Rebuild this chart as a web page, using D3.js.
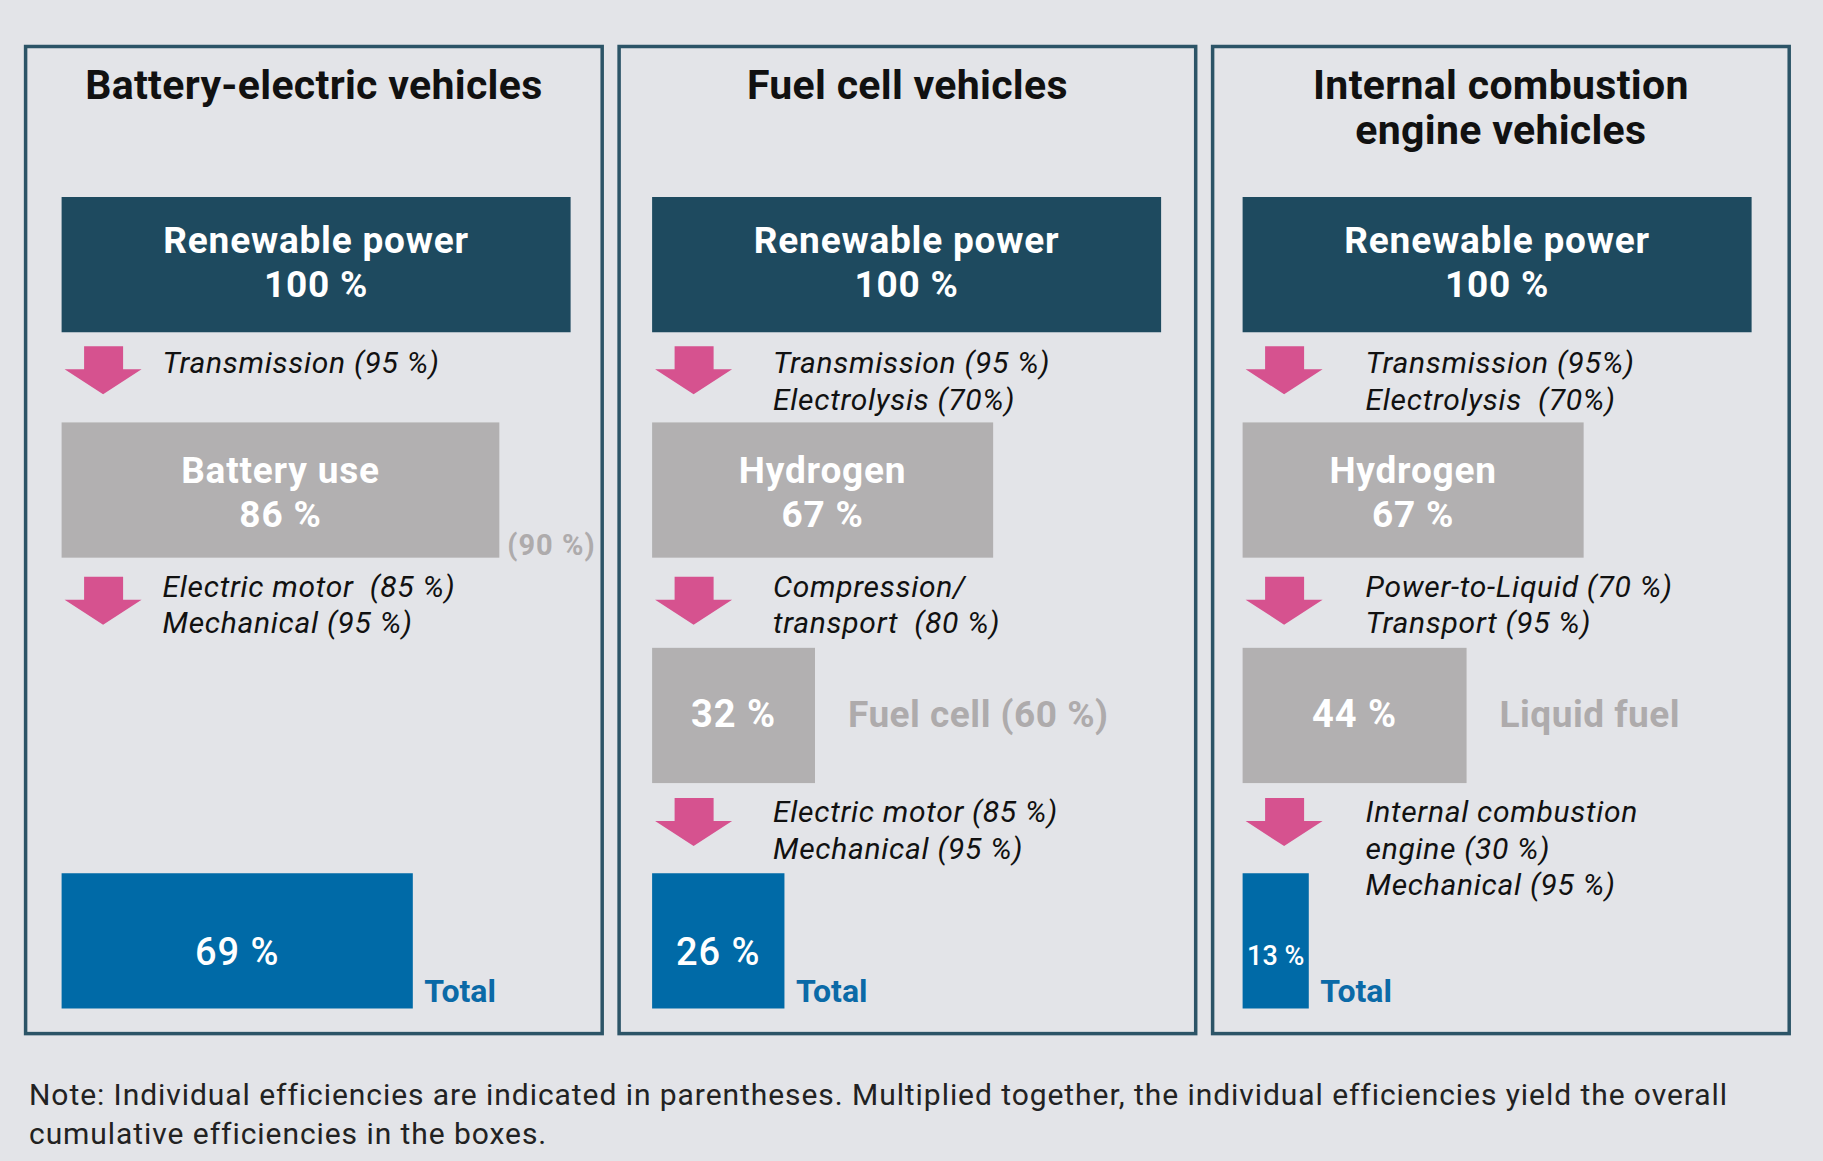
<!DOCTYPE html>
<html>
<head>
<meta charset="utf-8">
<script src="https://cdn.jsdelivr.net/npm/d3@7"></script>
<style>
  html, body { margin: 0; padding: 0; background: #e3e4e8; }
  svg { display: block; }
  text { font-family: Roboto, "Open Sans", sans-serif; white-space: pre; }
</style>
</head>
<body>
<svg id="chart" width="1823" height="1161"></svg>
<script>
// ---------------- DATA ----------------
const panelTitles = [
  ["Battery-electric vehicles"],
  ["Fuel cell vehicles"],
  ["Internal combustion", "engine vehicles"]
];
const stages = ["source", "intermediate", "carrier", "total"];

// cumulative efficiency (%) of each stage, per vehicle type (null = no stage)
const bevValues = [100, 86, null, 69];
const fcvValues = [100, 67, 32, 26];
const iceValues = [100, 67, 44, 13];

const bevBoxLabels = [["Renewable power", "100 %"], ["Battery use", "86 %"], null, ["69 %"]];
const fcvBoxLabels = [["Renewable power", "100 %"], ["Hydrogen", "67 %"], ["32 %"], ["26 %"]];
const iceBoxLabels = [["Renewable power", "100 %"], ["Hydrogen", "67 %"], ["44 %"], ["13 %"]];

// conversion-step labels under each stage (arrow below stage i)
const bevSteps = [["Transmission (95 %)"], ["Electric motor  (85 %)", "Mechanical (95 %)"], null];
const fcvSteps = [["Transmission (95 %)", "Electrolysis (70%)"], ["Compression/", "transport  (80 %)"], ["Electric motor (85 %)", "Mechanical (95 %)"]];
const iceSteps = [["Transmission (95%)", "Electrolysis  (70%)"], ["Power-to-Liquid (70 %)", "Transport (95 %)"], ["Internal combustion", "engine (30 %)", "Mechanical (95 %)"]];

// grey side notes next to a stage box
const sideNoteStage = [1, 2, 2];
const sideNoteText = ["(90 %)", "Fuel cell (60 %)", "Liquid fuel"];

const totalLabel = "Total";
const noteLines = [
  "Note: Individual efficiencies are indicated in parentheses. Multiplied together, the individual efficiencies yield the overall",
  "cumulative efficiencies in the boxes."
];

// ---------------- LAYOUT ----------------
const W = 1823, H = 1161;
const C = {
  bg: "#e3e4e8", border: "#2c5467", dark: "#1e4a5f", grey: "#b2b0b1",
  blue: "#006aa7", pink: "#d6528f", sideGrey: "#aeabac", total: "#0b6aa7",
  text: "#111111", note: "#222222"
};
const panelsData = [
  { title: panelTitles[0], values: bevValues, labels: bevBoxLabels, steps: bevSteps },
  { title: panelTitles[1], values: fcvValues, labels: fcvBoxLabels, steps: fcvSteps },
  { title: panelTitles[2], values: iceValues, labels: iceBoxLabels, steps: iceSteps }
];
const innerDx = [36, 33, 30];        // box left offset inside each panel
const stepDx = [101, 121, 123];      // step-label left offset from box left
const arrowGap = [14, 19, 15];       // arrow top below each stage box

const svg = d3.select("#chart");
svg.append("rect").attr("width", W).attr("height", H).attr("fill", C.bg);

const panelX = d3.scaleBand().domain(d3.range(3)).range([25.6, 1789.2]).paddingInner(0.0285);
const rowY = d3.scaleBand().domain(d3.range(4)).range([197, 1008.5]).paddingInner(0.4);
const boxW = d3.scaleLinear().domain([0, 100]).range([0, 509]);
const panelTop = 46.5, panelBottom = 1033.6;

const panels = svg.selectAll("g.panel").data(panelsData).join("g")
  .attr("class", "panel")
  .attr("transform", (d, i) => `translate(${panelX(i)},0)`);

panels.append("rect")
  .attr("x", 0).attr("y", panelTop)
  .attr("width", panelX.bandwidth()).attr("height", panelBottom - panelTop)
  .attr("fill", "none").attr("stroke", C.border).attr("stroke-width", 3.5);

// titles
panels.each(function(d) {
  const g = d3.select(this);
  d.title.forEach((line, k) => {
    g.append("text")
      .attr("x", panelX.bandwidth() / 2).attr("y", 99 + k * 45)
      .attr("text-anchor", "middle")
      .attr("font-size", 41).attr("font-weight", 700).attr("letter-spacing", 0.3)
      .attr("fill", C.text)
      .text(line);
  });
});

const fillFor = r => r === 0 ? C.dark : (r === 3 ? C.blue : C.grey);

panels.each(function(d, pi) {
  const g = d3.select(this);
  const x0 = innerDx[pi];
  // boxes
  d.values.forEach((v, r) => {
    if (v == null) return;
    const y = rowY(r), h = rowY.bandwidth(), w = boxW(v);
    g.append("rect").attr("x", x0).attr("y", y).attr("width", w).attr("height", h).attr("fill", fillFor(r));
    const lines = d.labels[r];
    const cx = x0 + w / 2, cy = y + h / 2;
    const small = w < 100;
    if (lines.length === 2) {
      const off = r === 0 ? -11.4 : -6.7;
      lines.forEach((ln, k) => {
        g.append("text").attr("x", cx).attr("y", cy + off + k * 44)
          .attr("text-anchor", "middle").attr("font-size", 37).attr("font-weight", 700)
          .attr("letter-spacing", 0.8)
          .attr("fill", "#ffffff").text(ln);
      });
    } else {
      const off = r === 3 ? 24.3 : 11.8;
      g.append("text").attr("x", cx).attr("y", cy + off)
        .attr("text-anchor", "middle").attr("font-size", small ? 27 : 38)
        .attr("font-weight", r === 3 ? 500 : 700).attr("letter-spacing", small ? 0 : 1)
        .attr("fill", "#ffffff").text(lines[0]);
    }
    if (r === 3) {
      g.append("text").attr("x", x0 + w + 11.5).attr("y", y + h - 7)
        .attr("font-size", 32).attr("font-weight", 700).attr("fill", C.total).text(totalLabel);
    }
  });

  // side note
  const sr = sideNoteStage[pi];
  const sv = d.values[sr];
  const sx = x0 + boxW(sv);
  if (sr === 1) {
    g.append("text").attr("x", sx + 8).attr("y", rowY(sr) + rowY.bandwidth() - 3)
      .attr("font-size", 29).attr("font-weight", 700).attr("letter-spacing", 1)
      .attr("fill", C.sideGrey).text(sideNoteText[pi]);
  } else {
    g.append("text").attr("x", sx + 33).attr("y", rowY(sr) + rowY.bandwidth() / 2 + 12)
      .attr("font-size", 37).attr("font-weight", 700).attr("letter-spacing", 0.5)
      .attr("fill", C.sideGrey).text(sideNoteText[pi]);
  }

  // arrows and step labels
  d.steps.forEach((lines, s) => {
    if (!lines) return;
    const top = rowY(s) + rowY.bandwidth() + arrowGap[s];
    const ax = x0 + 3;
    const path = d3.path();
    path.moveTo(ax + 19.5, top);
    path.lineTo(ax + 58.5, top);
    path.lineTo(ax + 58.5, top + 23);
    path.lineTo(ax + 77, top + 23);
    path.lineTo(ax + 38.5, top + 48);
    path.lineTo(ax, top + 23);
    path.lineTo(ax + 19.5, top + 23);
    path.closePath();
    g.append("path").attr("d", path.toString()).attr("fill", C.pink);
    const base = rowY(s) + rowY.bandwidth() + (s === 0 ? 41 : 39);
    lines.forEach((ln, k) => {
      g.append("text").attr("x", x0 + stepDx[pi]).attr("y", base + k * 36.5)
        .attr("font-size", 30).attr("font-style", "italic").attr("letter-spacing", 0.7)
        .attr("fill", C.text).text(ln);
    });
  });
});

// footnote
noteLines.forEach((ln, k) => {
  svg.append("text").attr("x", 29).attr("y", 1105 + k * 38.5)
    .attr("font-size", 30).attr("letter-spacing", 0.94).attr("fill", C.note).text(ln);
});
</script>
</body>
</html>
